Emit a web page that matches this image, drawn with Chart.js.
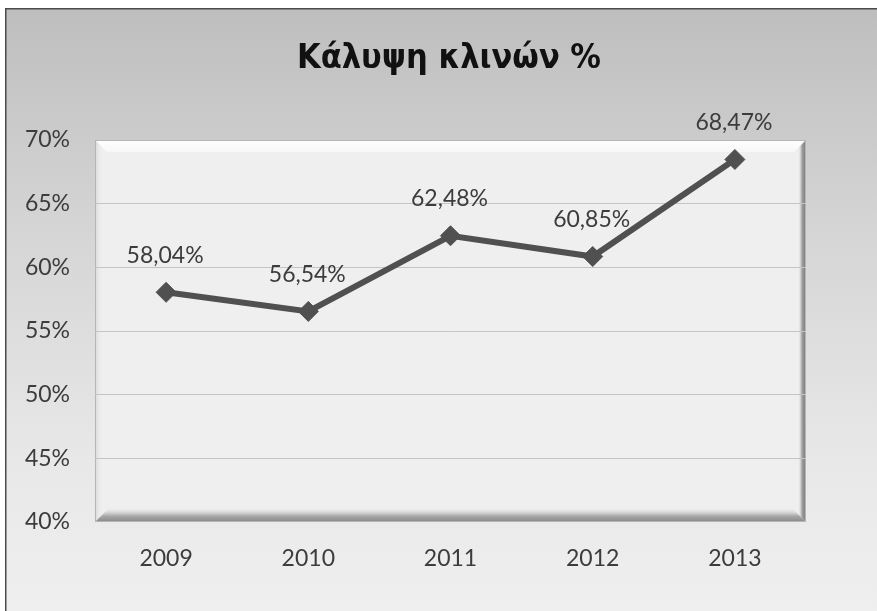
<!DOCTYPE html>
<html>
<head>
<meta charset="utf-8">
<script src="https://cdn.jsdelivr.net/npm/chart.js@4.4.1/dist/chart.umd.min.js"></script>
<style>
  html, body { margin: 0; padding: 0; background: #ffffff; }
  #wrap { width: 877px; height: 611px; position: relative; }
</style>
</head>
<body>
<div id="wrap"><canvas id="c" width="877" height="611"></canvas></div>
<script>
const chartTitle = 'Κάλυψη κλινών %';
const years = ['2009', '2010', '2011', '2012', '2013'];
const bedOccupancy = [58.04, 56.54, 62.48, 60.85, 68.47];
const yMin = 40, yMax = 70, yStep = 5;

const fmtPct = v => v.toFixed(2).replace('.', ',') + '%';

const backgroundPlugin = {
  id: 'bg',
  beforeDraw(chart) {
    const ctx = chart.ctx, W = chart.width, H = chart.height;
    ctx.save();
    ctx.fillStyle = '#ffffff';
    ctx.fillRect(0, 0, W, H);
    const g = ctx.createLinearGradient(0, 8, 0, H);
    g.addColorStop(0, '#bebebe');
    g.addColorStop(0.35, '#d4d4d4');
    g.addColorStop(0.75, '#e8e8e8');
    g.addColorStop(1, '#efefef');
    ctx.fillStyle = g;
    ctx.fillRect(5, 8, W - 5, H - 8);
    ctx.strokeStyle = '#4a4a4a';
    ctx.lineWidth = 1.5;
    ctx.beginPath();
    ctx.moveTo(5.75, H);
    ctx.lineTo(5.75, 8.75);
    ctx.lineTo(W, 8.75);
    ctx.stroke();

    // title
    ctx.font = 'bold 34px "DejaVu Sans Condensed"';
    ctx.fillStyle = '#111111';
    ctx.textAlign = 'center';
    ctx.textBaseline = 'alphabetic';
    ctx.fillText(chartTitle, 449, 68);

    // plot wall
    const a = chart.chartArea;
    const L = a.left, T = a.top, R = a.right, B = a.bottom;
    ctx.fillStyle = '#efefef';
    ctx.fillRect(L, T, R - L, B - T);
    const tb = 12;
    let gt = ctx.createLinearGradient(0, T, 0, T + tb);
    gt.addColorStop(0, '#ffffff');
    gt.addColorStop(1, 'rgba(248,248,248,0.9)');
    ctx.fillStyle = gt;
    ctx.beginPath();
    ctx.moveTo(L, T); ctx.lineTo(R, T); ctx.lineTo(R - tb, T + tb); ctx.lineTo(L + tb, T + tb); ctx.closePath();
    ctx.fill();
    let gl = ctx.createLinearGradient(L, 0, L + 8, 0);
    gl.addColorStop(0, '#d8d8d8');
    gl.addColorStop(1, 'rgba(239,239,239,0)');
    ctx.fillStyle = gl;
    ctx.beginPath();
    ctx.moveTo(L, T); ctx.lineTo(L + 8, T + 8); ctx.lineTo(L + 8, B - 8); ctx.lineTo(L, B); ctx.closePath();
    ctx.fill();
    const bb = 15;
    let gb = ctx.createLinearGradient(0, B - bb, 0, B);
    gb.addColorStop(0, 'rgba(239,239,239,0)');
    gb.addColorStop(0.6, '#a8a8a8');
    gb.addColorStop(1, '#878787');
    ctx.fillStyle = gb;
    ctx.beginPath();
    ctx.moveTo(L, B); ctx.lineTo(L + bb, B - bb); ctx.lineTo(R - bb, B - bb); ctx.lineTo(R, B); ctx.closePath();
    ctx.fill();
    const rb = 8;
    let gr = ctx.createLinearGradient(R - rb, 0, R, 0);
    gr.addColorStop(0, 'rgba(239,239,239,0)');
    gr.addColorStop(0.5, '#a0a0a0');
    gr.addColorStop(1, '#777777');
    ctx.fillStyle = gr;
    ctx.beginPath();
    ctx.moveTo(R, T); ctx.lineTo(R, B); ctx.lineTo(R - rb, B - rb); ctx.lineTo(R - rb, T + rb); ctx.closePath();
    ctx.fill();
    ctx.strokeStyle = '#b5b5b5';
    ctx.lineWidth = 1;
    ctx.strokeRect(L + 0.5, T + 0.5, R - L - 1, B - T - 1);
    ctx.restore();
  }
};

const valueLabelPlugin = {
  id: 'valueLabels',
  afterDatasetsDraw(chart) {
    const ctx = chart.ctx;
    const meta = chart.getDatasetMeta(0);
    ctx.save();
    ctx.font = '23px Lato';
    ctx.fillStyle = '#3c3c3c';
    ctx.textAlign = 'center';
    ctx.textBaseline = 'middle';
    meta.data.forEach((pt, i) => {
      ctx.fillText(fmtPct(bedOccupancy[i]), pt.x - 1, pt.y - 37);
    });
    ctx.restore();
  }
};

new Chart(document.getElementById('c'), {
  type: 'line',
  data: {
    labels: years,
    datasets: [{
      data: bedOccupancy,
      borderColor: '#505050',
      backgroundColor: '#505050',
      borderWidth: 6,
      pointStyle: 'rectRot',
      pointRadius: 10,
      pointHoverRadius: 10,
      pointBackgroundColor: '#505050',
      pointBorderColor: '#505050',
      pointBorderWidth: 1,
      tension: 0,
      fill: false
    }]
  },
  options: {
    responsive: false,
    animation: false,
    events: [],
    layout: { padding: { left: 5, right: 71, top: 140, bottom: 0 } },
    plugins: {
      legend: { display: false },
      tooltip: { enabled: false },
      title: { display: false }
    },
    scales: {
      x: {
        offset: true,
        grid: { display: false, drawTicks: false },
        border: { display: false },
        ticks: { color: '#3c3c3c', font: { family: 'Lato', size: 23 }, padding: 23 },
        afterFit(s) { s.height = 89; }
      },
      y: {
        min: yMin, max: yMax,
        grid: {
          drawTicks: false,
          color: ctx => (ctx.tick && (ctx.tick.value === yMin || ctx.tick.value === yMax)) ? 'rgba(0,0,0,0)' : '#c4c4c4',
          lineWidth: 1
        },
        border: { display: false },
        ticks: {
          stepSize: yStep,
          color: '#3c3c3c',
          font: { family: 'Lato', size: 23 },
          padding: 25,
          callback: v => v + '%'
        },
        afterFit(s) { s.width = 90; }
      }
    }
  },
  plugins: [backgroundPlugin, valueLabelPlugin]
});
</script>
</body>
</html>
